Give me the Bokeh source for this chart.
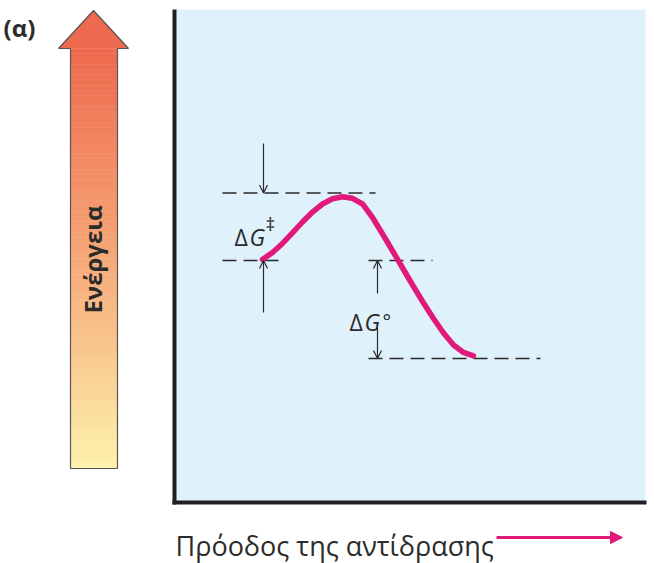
import numpy as np
from bokeh.plotting import figure
from bokeh.models import Range1d, Arrow, OpenHead, NormalHead
from bokeh.core.properties import value
from bokeh.embed import file_html
from bokeh.resources import INLINE

# ---------------- data (reaction progress 0-100, energy 0-100) ----------------
progress = [18.68, 20.81, 22.93, 25.05, 27.18, 29.30, 31.42, 33.55, 35.67, 37.79, 39.92, 42.04,
            44.37, 46.50, 48.62, 50.74, 52.87, 54.99, 57.11, 59.24, 61.36, 63.48]
energy = [49.29, 50.71, 52.54, 54.67, 56.90, 58.92, 60.55, 61.60, 62.01, 61.70, 60.55, 57.81,
          54.16, 50.71, 47.26, 43.81, 40.47, 37.32, 34.38, 31.95, 30.43, 29.76]
reactant_level = 49.09
transition_level = 62.78
product_level = 29.21
x_label = "Πρόοδος της αντίδρασης"
y_label = "Ενέργεια"
panel_tag = "(α)"
dg_act = ["Δ", "G", "‡"]
dg_std = ["Δ", "G", "°"]

# ---------------- layout helpers (page pixel -> data units) ----------------
W, H = 654, 563
PL, PR, PT, PB = 174, 645, 9, 502
SX = (PR - PL) / 100.0
SY = (PB - PT) / 100.0


def X(px):
    return (px - PL) / SX


def Y(py):
    return (PB - py) / SY


MAGENTA = "#e1197a"
INK = "#2b2b2b"
FONT = "Open Sans"

p = figure(width=W, height=H, x_range=Range1d(X(0), X(W)), y_range=Range1d(Y(H), Y(0)),
           output_backend="svg", toolbar_location=None, min_border=0,
           x_axis_type=None, y_axis_type=None, outline_line_color=None,
           background_fill_color="white", border_fill_color="white")
p.grid.visible = False

# panel
p.quad(left=X(PL), right=X(PR), bottom=Y(PB), top=Y(PT), fill_color="#dff1fb", line_color=None)
# axis lines
p.segment(x0=[X(174)], y0=[Y(9)], x1=[X(174)], y1=[Y(504)], line_color="#231f20", line_width=4, line_cap="butt")
p.segment(x0=[X(172)], y0=[Y(502)], x1=[X(646)], y1=[Y(502)], line_color="#231f20", line_width=4, line_cap="butt")

# energy gradient arrow
stops_pos = [0.0, 0.35, 0.7, 1.0]
stops_col = [(238, 106, 78), (244, 148, 106), (249, 196, 140), (253, 242, 172)]
top_y, bot_y = 48, 468
n = 80
edges = np.linspace(top_y, bot_y, n + 1)
cols = []
for i in range(n):
    t = (i + 0.5) / n
    c = [int(round(np.interp(t, stops_pos, [s[k] for s in stops_col]))) for k in range(3)]
    cols.append("#%02x%02x%02x" % tuple(c))
p.quad(left=X(70), right=X(117), top=[Y(e) for e in edges[:-1]], bottom=[Y(e) for e in edges[1:]],
       fill_color=cols, line_color=cols, line_width=0.5)
p.patch(x=[X(58), X(93), X(128)], y=[Y(48), Y(10), Y(48)], fill_color="#ee6a4e", line_color=None)
ox = [58, 93, 128, 117, 117, 70, 70, 58]
oy = [48, 10, 48, 48, 468, 468, 48, 48]
p.line(x=[X(v) for v in ox], y=[Y(v) for v in oy], line_color="#555555", line_width=1.2)

p.text(x=[X(92)], y=[Y(259)], text=[y_label], angle=np.pi / 2, text_align="center", text_baseline="middle",
       text_font=value(FONT), text_font_style="bold", text_font_size="24px", text_color=INK)
p.text(x=[X(3)], y=[Y(27)], text=[panel_tag], text_align="left", text_baseline="alphabetic",
       text_font=value(FONT), text_font_style="bold", text_font_size="24px", text_color=INK)

# dashed levels
p.segment(x0=[X(222), X(222), X(368), X(368)],
          x1=[X(375), X(285), X(432), X(540)],
          y0=[transition_level, reactant_level, reactant_level, product_level],
          y1=[transition_level, reactant_level, reactant_level, product_level],
          line_color=INK, line_width=1.3, line_dash="14 7")

# energy curve
p.line(x=progress, y=energy, line_color=MAGENTA, line_width=5.5, line_cap="round", line_join="round")

# measurement arrows
for xs, ys, ye in [(263, Y(143), transition_level), (263, Y(312), reactant_level),
                   (377, Y(293), reactant_level), (377, Y(327), product_level)]:
    p.add_layout(Arrow(end=OpenHead(size=8, line_width=1.2, line_color=INK),
                       x_start=X(xs), y_start=ys, x_end=X(xs), y_end=ye,
                       line_color=INK, line_width=1.2))

# delta G labels
p.text(x=[X(234)], y=[Y(236)], text=[dg_act[0]], text_font=value(FONT), text_font_size="23px",
       text_baseline="alphabetic", text_color=INK)
p.text(x=[X(249)], y=[Y(236)], text=[dg_act[1]], text_font=value(FONT), text_font_size="23px",
       text_font_style="italic", text_baseline="alphabetic", text_color=INK)
p.text(x=[X(265)], y=[Y(223)], text=[dg_act[2]], text_font=value(FONT), text_font_size="19px",
       text_baseline="alphabetic", text_color=INK)
p.text(x=[X(349)], y=[Y(321)], text=[dg_std[0]], text_font=value(FONT), text_font_size="23px",
       text_baseline="alphabetic", text_color=INK)
p.text(x=[X(364)], y=[Y(321)], text=[dg_std[1]], text_font=value(FONT), text_font_size="23px",
       text_font_style="italic", text_baseline="alphabetic", text_color=INK)
p.text(x=[X(382)], y=[Y(321)], text=[dg_std[2]], text_font=value(FONT), text_font_size="20px",
       text_baseline="alphabetic", text_color=INK)

# x label and arrow
p.text(x=[X(175)], y=[Y(545)], text=[x_label], text_font=value(FONT), text_font_size="27px",
       text_baseline="alphabetic", text_color=INK)
p.add_layout(Arrow(end=NormalHead(size=12, fill_color=MAGENTA, line_color=MAGENTA),
                   x_start=X(496), y_start=Y(537), x_end=X(622), y_end=Y(537),
                   line_color=MAGENTA, line_width=3))

open("out.html", "w").write(file_html(p, INLINE))
